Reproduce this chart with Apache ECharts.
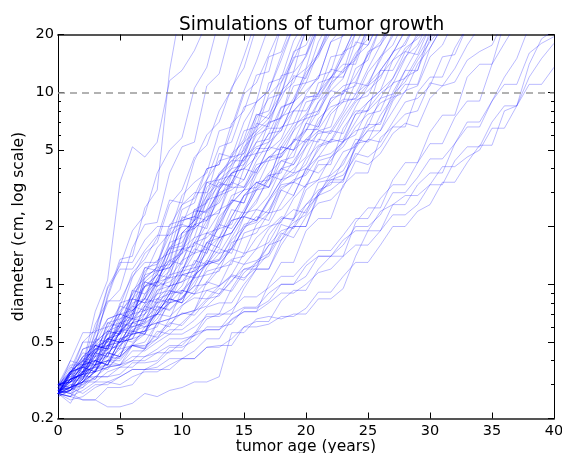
<!DOCTYPE html>
<html><head><meta charset="utf-8">
<script src="https://cdn.jsdelivr.net/npm/echarts@6/dist/echarts.min.js"></script>
<style>html,body{margin:0;padding:0;background:#fff}#c{width:562px;height:453px}</style>
</head><body><div id="c"></div>
<script>
// ages (years) at each simulation step
const ages = [0,1,2,3,4,5,6,7,8,9,10,11,12,13,14,15,16,17,18,19,20,21,22,23,24,25,26,27,28,29,30,31,32,33,34,35,36,37,38,39,40];

// simulated tumor diameters (cm), one array per simulation, starting at age 0
const s01 = [0.27,0.34,0.38,0.72,1.05,3.4,5.2,4.6,5.5,11.5,13,16.5,23];
const s02 = [0.28,0.32,0.46,0.49,0.88,1.35,1.4,2.5,3.1,13,30];
const s03 = [0.29,0.34,0.50,0.58,0.97,1.25,1.9,2.3,3.8,5.0,5.8,10.5,13.5,24];
const s04 = [0.28,0.35,0.37,0.55,0.80,0.94,1.55,2.05,2.1,3.8,5.2,5.5,10.8,12.5,22];
const s05 = [0.27,0.31,0.42,0.48,0.66,0.70,1.08,1.45,1.65,2.6,3.1,4.6,5.3,8.0,10.3,15.5,24];
const s06 = [0.29,0.37,0.35,0.57,0.60,0.77,1.15,1.35,1.75,2.75,2.65,4.4,6.0,7.0,10.6,13.4,22];
const s07 = [0.27,0.28,0.38,0.48,0.50,0.80,0.84,1.12,1.55,1.85,2.9,3.4,3.8,6.3,6.6,10.2,14.5,22];
const s08 = [0.28,0.35,0.40,0.50,0.57,0.55,0.93,1.07,1.23,1.95,2.05,2.9,4.0,4.2,6.9,8.0,12.3,12.8,22];
const s09 = [0.30,0.29,0.37,0.50,0.57,0.73,0.84,1.17,1.33,1.45,2.45,2.65,4.0,4.2,6.3,9.8,11.2,15.7,22];
const s10 = [0.27,0.32,0.34,0.44,0.60,0.63,0.73,1.22,1.18,1.65,2.6,2.8,3.5,5.2,5.5,8.4,8.9,15.3,16.2,24];
const s11 = [0.28,0.31,0.38,0.40,0.55,0.70,0.66,1.12,1.18,1.34,2.15,2.25,2.9,4.8,4.6,5.7,8.9,10.2,15.6,22];
const s12 = [0.29,0.34,0.42,0.48,0.46,0.66,0.77,0.98,1.03,1.45,2.05,1.95,3.2,3.7,4.2,6.3,6.6,11.2,11.8,18.5,24];
const s13 = [0.27,0.35,0.37,0.42,0.63,0.60,0.84,0.97,1.12,1.55,1.85,2.15,3.4,3.2,4.8,5.5,6.3,9.7,11.3,15.8,22];
const s14 = [0.26,0.28,0.35,0.48,0.46,0.57,0.80,0.84,1.07,1.33,1.45,2.45,2.35,3.1,4.2,4.8,6.6,7.7,9.8,15.2,15.8,24];
const s15 = [0.30,0.32,0.34,0.46,0.52,0.60,0.93,0.89,1.13,1.55,1.65,2.15,3.4,3.5,4.0,5.5,7.6,8.0,12.2,12.8,22];
const s16 = [0.27,0.34,0.42,0.44,0.50,0.77,0.73,0.84,1.27,1.53,1.58,2.45,2.65,3.7,4.6,4.8,7.3,9.3,9.8,16.3,17.6,24];
const s17 = [0.28,0.29,0.31,0.38,0.52,0.55,0.70,0.97,1.03,1.17,1.85,1.95,2.25,3.2,4.0,4.2,6.3,7.3,9.3,12.7,15.3,22];
const s18 = [0.30,0.35,0.40,0.38,0.57,0.61,0.70,0.98,1.12,1.08,1.85,2.15,2.45,3.5,3.7,4.6,6.9,6.6,10.2,11.8,13.3,22];
const s19 = [0.27,0.28,0.32,0.48,0.46,0.63,0.66,0.77,1.08,1.33,1.27,2.05,2.15,3.1,3.8,4.0,5.5,6.9,7.4,12.2,11.8,18.3,24];
const s20 = [0.27,0.35,0.40,0.46,0.48,0.60,0.84,0.80,1.03,1.27,1.53,1.45,2.45,2.65,3.4,4.6,4.8,6.1,8.4,8.9,13.2,15.8,24];
const s21 = [0.30,0.31,0.35,0.44,0.55,0.57,0.66,1.03,0.97,1.12,1.55,2.05,1.95,3.1,3.8,4.4,5.5,5.7,7.6,10.8,11.2,16.3,22];
const s22 = [0.27,0.32,0.34,0.46,0.52,0.55,0.84,0.80,1.02,1.45,1.53,1.75,2.75,2.9,3.4,4.6,5.2,5.5,8.3,8.9,12.2,15.8,20.5,24];
const s23 = [0.28,0.29,0.40,0.38,0.48,0.60,0.63,0.73,1.03,1.08,1.33,1.75,1.85,2.35,3.4,3.2,4.4,5.5,6.3,8.9,10.2,11.8,18.3,19.6,24];
const s24 = [0.30,0.34,0.32,0.44,0.50,0.52,0.73,0.84,0.80,1.22,1.45,1.65,2.15,2.45,2.65,4.0,3.8,5.2,6.6,6.9,9.8,12.2,12.8,20.4,24];
const s25 = [0.27,0.35,0.37,0.38,0.57,0.55,0.63,0.89,1.03,0.97,1.53,1.58,2.05,2.9,3.1,3.5,4.8,5.0,5.7,8.0,9.3,9.8,15.3,15.8,22];
const s26 = [0.26,0.28,0.32,0.44,0.42,0.57,0.66,0.70,0.89,1.12,1.17,1.65,1.55,2.25,2.65,3.1,4.2,4.4,5.5,6.9,7.3,11.2,11.8,15.3,20.3,24];
const s27 = [0.30,0.32,0.37,0.35,0.52,0.50,0.63,0.80,0.84,0.89,1.33,1.45,1.53,2.15,2.75,2.65,4.0,4.6,5.2,6.6,7.7,9.8,13.2,12.7,20.5,24];
const s28 = [0.27,0.34,0.38,0.40,0.46,0.63,0.60,0.70,0.98,1.03,1.17,1.65,1.75,2.05,2.9,3.1,3.8,5.2,5.0,6.3,8.9,9.3,11.8,16.3,17.6,24];
const s29 = [0.27,0.28,0.31,0.38,0.44,0.42,0.63,0.66,0.70,0.89,1.12,1.17,1.85,1.75,2.25,2.9,3.4,3.5,5.2,5.0,6.9,8.9,10.2,11.8,18.3,17.6,24];
const s30 = [0.30,0.35,0.37,0.46,0.48,0.55,0.77,0.73,0.93,1.08,1.12,1.45,1.85,1.95,2.75,2.65,3.7,4.6,4.8,5.5,7.6,8.0,11.2,12.7,15.3,22];
const s31 = [0.27,0.31,0.38,0.40,0.42,0.57,0.55,0.77,0.89,0.93,1.17,1.53,1.45,2.05,2.65,3.1,3.2,4.4,4.6,6.3,7.3,7.7,10.8,13.2,14.7,22];
const s32 = [0.28,0.32,0.34,0.35,0.48,0.50,0.52,0.66,0.84,0.80,1.12,1.17,1.33,1.75,1.85,2.35,3.4,3.2,4.0,5.0,5.7,6.6,9.3,9.8,12.2,15.7,18.3,24];
const s33 = [0.30,0.31,0.35,0.44,0.42,0.57,0.60,0.63,0.93,0.98,1.03,1.27,1.65,1.75,2.45,2.35,3.1,3.8,4.4,4.6,6.9,6.6,9.3,10.8,11.3,15.7,22];
const s34 = [0.27,0.34,0.35,0.37,0.46,0.48,0.55,0.77,0.73,0.84,1.17,1.22,1.45,2.05,1.95,2.45,3.2,3.7,3.8,5.7,5.5,6.9,8.9,10.2,10.8,16.3,17.6,24];
const s35 = [0.27,0.28,0.32,0.40,0.38,0.52,0.55,0.57,0.73,0.93,0.89,1.22,1.27,1.65,2.15,2.25,2.65,3.7,3.5,4.4,5.5,6.3,6.6,10.2,9.8,13.3,17.6,22];
const s36 = [0.30,0.32,0.34,0.42,0.44,0.50,0.63,0.60,0.70,0.89,0.93,1.08,1.53,1.45,1.85,2.35,2.45,2.9,4.0,3.8,5.2,6.1,6.3,8.0,11.2,10.8,15.3,19.6,24];
const s37 = [0.27,0.32,0.37,0.35,0.48,0.50,0.52,0.70,0.80,0.84,0.98,1.33,1.27,1.65,2.15,2.25,2.75,3.5,4.0,4.2,5.7,5.5,7.7,8.9,9.3,12.7,15.3,17.6,24];
const s38 = [0.27,0.29,0.31,0.35,0.44,0.42,0.57,0.60,0.63,0.80,0.93,0.89,1.22,1.45,1.53,1.95,2.45,2.35,3.4,3.8,4.0,5.0,6.3,6.1,8.4,10.8,12.2,14.7,18.3,24];
const s39 = [0.30,0.31,0.35,0.40,0.38,0.52,0.55,0.57,0.66,0.84,0.80,1.12,1.27,1.33,1.55,2.25,2.15,2.75,3.5,3.7,4.2,5.7,5.5,7.0,8.9,10.2,11.8,16.3,17.6,24];
const s40 = [0.27,0.29,0.37,0.35,0.44,0.50,0.52,0.55,0.77,0.73,0.84,1.08,1.12,1.17,1.65,1.75,1.85,2.35,3.1,2.9,4.0,4.6,4.8,5.5,7.7,8.0,9.3,11.8,15.3,17.6,24];
const s41 = [0.27,0.26,0.34,0.38,0.40,0.42,0.57,0.55,0.70,0.80,0.84,0.98,1.33,1.27,1.53,1.95,2.25,2.15,3.1,3.5,3.7,4.6,5.7,5.5,7.0,8.9,10.2,11.8,16.3,15.7,22];
const s42 = [0.30,0.31,0.32,0.40,0.38,0.48,0.55,0.57,0.60,0.84,0.80,0.93,1.17,1.22,1.27,1.85,1.95,2.05,2.65,3.4,3.2,4.4,4.6,5.2,6.6,7.7,8.0,11.2,11.8,15.3,19.6,24];
const s43 = [0.27,0.29,0.31,0.35,0.44,0.42,0.48,0.60,0.63,0.66,0.93,0.89,1.03,1.27,1.53,1.45,2.05,2.35,2.45,2.9,4.0,3.8,4.4,5.5,6.3,6.6,9.3,9.8,11.3,14.7,18.3,22];
const s44 = [0.28,0.29,0.34,0.32,0.40,0.46,0.48,0.50,0.63,0.60,0.77,0.89,0.93,0.98,1.33,1.27,1.53,1.95,2.25,2.15,3.1,3.5,3.7,4.2,5.7,5.5,6.3,8.0,10.2,10.8,15.3,17.6,24];
const s45 = [0.30,0.29,0.34,0.35,0.37,0.42,0.48,0.46,0.63,0.66,0.70,0.73,1.03,0.98,1.12,1.45,1.53,1.65,2.15,2.45,2.35,3.4,3.5,3.7,4.6,5.7,5.5,7.0,8.9,9.3,10.8,15.3,15.7,22];
const s46 = [0.27,0.26,0.31,0.35,0.37,0.38,0.48,0.46,0.52,0.66,0.70,0.73,0.93,0.89,1.03,1.27,1.33,1.45,2.05,1.95,2.45,2.9,3.1,3.5,4.8,4.6,5.2,6.6,7.7,8.0,11.2,10.8,13.3,17.6,22];
const s47 = [0.27,0.29,0.31,0.32,0.40,0.38,0.40,0.46,0.57,0.55,0.63,0.73,0.77,0.89,1.12,1.08,1.22,1.45,1.85,1.75,2.25,2.65,2.75,3.2,4.4,4.2,4.8,6.1,6.9,6.6,9.3,10.8,11.3,14.7,16.3,17.6,24];
const s48 = [0.27,0.26,0.25,0.25,0.23,0.23,0.24,0.27,0.26,0.28,0.29,0.31,0.31,0.33,0.56,0.56,0.66,0.68,0.66,0.70,0.70,0.84,0.84,0.95,1.4,1.9,1.9,2.6,2.9,2.9,3.3,4.1,4.1,4.6,5.0,6.5,6.5,8.5,11,11,13.5];
const s49 = [0.28,0.27,0.25,0.25,0.29,0.29,0.30,0.36,0.36,0.36,0.41,0.41,0.47,0.47,0.52,0.60,0.60,0.62,0.68,0.68,0.75,0.91,0.91,1.1,1.3,1.3,1.6,2.0,2.0,2.4,2.6,3.4,3.4,4.3,5.3,5.3,8.0,8.5,12,15,18];
const s50 = [0.29,0.28,0.30,0.33,0.33,0.34,0.39,0.39,0.40,0.47,0.47,0.51,0.60,0.60,0.62,0.75,0.75,0.82,1.0,1.0,1.1,1.4,1.4,1.6,2.0,2.0,2.3,3.0,3.0,3.6,4.5,4.5,5.4,7.0,7.0,9.0,12,15,22];
const s51 = [0.27,0.29,0.31,0.31,0.35,0.37,0.37,0.42,0.44,0.44,0.50,0.54,0.58,0.58,0.65,0.72,0.72,0.80,0.90,0.90,1.0,1.15,1.2,1.4,1.6,1.6,1.9,2.3,2.3,2.6,3.3,3.3,4.4,5.2,5.2,7.0,8.5,8.5,14,19,21];
const s52 = [0.28,0.30,0.30,0.36,0.38,0.38,0.45,0.45,0.50,0.55,0.55,0.60,0.68,0.68,0.74,0.86,0.86,0.96,1.1,1.1,1.3,1.5,1.5,1.8,2.2,2.2,2.8,3.3,3.3,4.3,5.4,5.4,7.4,9.0,9.0,14,18,23];
const s53 = [0.28,0.29,0.27,0.30,0.30,0.33,0.36,0.36,0.39,0.45,0.45,0.55,0.70,0.70,0.95,1.2,1.2,1.8,2.2,2.2,3.3,4.2,4.2,6.5,8.0,8.0,13,16,21];
const s54 = [0.27,0.26,0.28,0.31,0.31,0.33,0.36,0.36,0.37,0.41,0.41,0.45,0.52,0.52,0.66,0.72,0.72,1.0,1.3,1.3,1.9,2.2,2.2,3.3,3.8,3.8,5.8,6.6,6.6,10,12,12,17,22];
const s55 = [0.28,0.31,0.33,0.33,0.37,0.38,0.42,0.42,0.46,0.52,0.52,0.54,0.66,0.70,0.70,0.95,1.2,1.2,1.6,2.0,2.0,2.9,3.5,3.5,5.2,6.8,6.8,10,13,13,21];
const s56 = [0.27,0.25,0.26,0.29,0.31,0.30,0.33,0.35,0.35,0.38,0.41,0.41,0.47,0.48,0.48,0.60,0.64,0.64,0.82,0.93,0.93,1.2,1.4,1.4,2.1,2.5,2.5,3.5,4.3,4.3,6.2,7.6,7.6,12,14,14,23];
const s57 = [0.29,0.33,0.33,0.38,0.40,0.40,0.48,0.48,0.52,0.58,0.58,0.65,0.76,0.80,0.80,1.0,1.2,1.2,1.7,2.0,2.0,3.0,3.4,3.4,5.4,6.3,6.3,9.0,11,11,17,22];
const s58 = [0.28,0.40,0.56,0.56,0.95,1.2,1.2,1.5,1.8,1.8,2.2,2.4,2.4,3.0,3.2,3.2,4.0,4.6,4.6,5.6,6.4,6.4,8.0,9.2,9.2,11,13,13,17,19,22];
const s59 = [0.27,0.36,0.50,0.50,0.85,1.3,1.3,1.7,2.0,2.0,2.6,3.0,3.0,3.7,4.4,4.4,6.0,6.5,6.5,8.0,9.5,9.5,12,14,14,21];
const s60 = [0.30,0.38,0.38,0.62,0.82,0.82,1.1,1.3,1.3,1.8,2.0,2.0,2.7,3.3,3.3,4.2,5.1,5.1,7.5,8.0,8.0,10,12,12,16,19,24];
const s61 = [0.28,0.27,0.29,0.33,0.33,0.37,0.40,0.40,0.44,0.48,0.48,0.56,0.58,0.58,0.70,0.76,0.76,0.90,1.0,1.0,1.25,1.4,1.4,1.7,1.9,1.9,2.4,2.6,2.6,3.3,3.8,3.8,5.4,6.6,6.6,9.0,11,11,16,18,19.5];
const s62 = [0.30,0.28,0.35,0.52,0.50,0.63,0.89,1.03,0.98,1.65,1.75,2.05,2.9,3.4,3.2,5.2,6.1,7.0,9.8,11.2,15.7,22];
const s63 = [0.27,0.34,0.46,0.48,0.55,0.70,0.66,1.03,1.17,1.22,1.45,2.25,2.15,2.75,3.8,4.0,4.6,7.0,7.3,9.3,12.7,15.3,22];
const s64 = [0.27,0.24,0.31,0.38,0.40,0.50,0.57,0.55,0.84,0.98,1.03,1.12,1.65,1.55,2.25,2.9,3.1,3.5,5.2,5.0,6.3,8.9,11.2,15.7,22];
const s65 = [0.30,0.32,0.34,0.38,0.52,0.50,0.63,0.66,0.70,0.89,1.12,1.08,1.53,1.75,1.85,2.35,3.1,3.2,4.4,4.2,5.2,7.3,8.4,8.9,13.3,14.7,22];
const s66 = [0.27,0.35,0.44,0.42,0.63,0.66,0.70,1.08,1.22,1.27,2.25,2.15,2.75,3.8,4.4,5.0,7.7,7.3,11.2,14.7,20.5,24];
const s67 = [0.27,0.31,0.35,0.37,0.38,0.52,0.50,0.57,0.73,0.84,0.80,1.12,1.27,1.33,1.75,2.25,2.15,2.75,3.5,4.0,4.6,6.3,6.1,7.7,9.8,11.2,14.7,20.4,24];
const s68 = [0.30,0.40,0.38,0.52,0.66,0.70,0.89,1.22,1.27,2.05,2.15,2.25,3.5,4.4,4.6,7.0,8.9,10.2,14.7,22];
const s69 = [0.27,0.32,0.34,0.42,0.48,0.46,0.70,0.73,0.77,0.98,1.22,1.27,1.65,1.95,2.05,2.9,3.4,3.2,4.8,5.5,6.3,8.0,10.2,9.8,15.3,17.6,24];
const s70 = [0.30,0.31,0.38,0.48,0.46,0.70,0.73,0.84,1.17,1.22,1.53,1.95,2.25,2.35,3.7,3.5,4.8,6.1,6.3,8.9,11.2,11.8,18.3,22];
const s71 = [0.27,0.28,0.35,0.40,0.38,0.48,0.60,0.63,0.70,0.80,0.84,1.03,1.27,1.53,1.45,2.05,2.15,2.45,3.2,3.4,3.8,5.2,5.5,5.7,7.7,8.9,10.2,14.7,16.3,19.6,24];
const s72 = [0.28,0.33,0.38,0.45,0.52,0.50,0.58,0.62,0.70,0.68,0.78,0.85,0.84,0.98,1.1,1.05,1.3,1.6,1.7,2.2,2.6,2.9,3.8,4.9,5.2,7.2,8.8,9.5,13,17,22];
const s73 = [0.27,0.30,0.29,0.36,0.42,0.41,0.49,0.55,0.53,0.62,0.71,0.69,0.82,0.95,0.92,1.15,1.3,1.4,1.8,2.1,2.3,3.0,3.6,3.9,5.1,6.4,7.0,9.2,12,13,19,23];
const s74 = [0.29,0.35,0.41,0.40,0.52,0.58,0.57,0.66,0.76,0.74,0.86,0.98,1.0,1.2,1.35,1.4,1.75,2.0,2.1,2.8,3.3,3.5,4.6,5.6,6.0,8.2,9.9,11,15,20.5,24];
const s75 = [0.28,0.27,0.33,0.37,0.36,0.44,0.48,0.47,0.55,0.63,0.61,0.72,0.84,0.87,1.05,1.2,1.25,1.6,1.9,2.0,2.6,3.1,3.3,4.4,5.4,5.6,7.6,9.4,10,14,17,22];
const s76 = [0.27,0.32,0.40,0.46,0.45,0.56,0.66,0.64,0.80,0.92,0.90,1.1,1.3,1.35,1.7,2.0,2.1,2.7,3.3,3.4,4.5,5.3,5.6,7.4,9.1,9.6,13,16,21];

const simulations = [s01,s02,s03,s04,s05,s06,s07,s08,s09,s10,s11,s12,s13,s14,s15,s16,s17,s18,s19,s20,
  s21,s22,s23,s24,s25,s26,s27,s28,s29,s30,s31,s32,s33,s34,s35,s36,s37,s38,s39,s40,
  s41,s42,s43,s44,s45,s46,s47,s48,s49,s50,s51,s52,s53,s54,s55,s56,s57,s58,s59,s60,
  s61,s62,s63,s64,s65,s66,s67,s68,s69,s70,s71,s72,s73,s74,s75,s76];

// axes
const xTicks = [0,5,10,15,20,25,30,35,40];
const yMajorTicks = [0.2,0.5,1,2,5,10,20];
const yMinorTicks = [0.3,0.4,0.6,0.7,0.8,0.9,3,4,6,7,8,9];
const thresholdDiameter = 10;

const FONT = "'DejaVu Sans', sans-serif";
const chart = echarts.init(document.getElementById('c'), null, {renderer: 'canvas'});

const series = simulations.map((sim, k) => ({
  type: 'line',
  name: 'sim' + (k + 1),
  data: sim.map((d, i) => [ages[i], d]),
  showSymbol: false,
  symbol: 'none',
  silent: true,
  animation: false,
  clip: true,
  emphasis: {disabled: true},
  lineStyle: {color: '#0000ff', width: 1, opacity: 0.27},
  z: 2
}));
series.push({
  type: 'line', data: [], silent: true, animation: false, z: 5,
  markLine: {
    silent: true, animation: false, symbol: ['none', 'none'],
    label: {show: false},
    lineStyle: {type: [7, 5], color: '#999999', width: 1.5},
    data: [{yAxis: thresholdDiameter}]
  }
});

const yBase = {type: 'log', logBase: 10, min: 0.2, max: 20, splitLine: {show: false}, minorTick: {show: false}};
const frame = {show: true, lineStyle: {color: '#000', width: 1}};

chart.setOption({
  animation: false,
  backgroundColor: '#fff',
  title: {
    text: 'Simulations of tumor growth', left: 174, top: 11,
    textStyle: {fontFamily: FONT, fontSize: 18.6, fontWeight: 'normal', color: '#000'}
  },
  grid: {left: 58, right: 8, top: 34.5, bottom: 34.5, containLabel: false, outerBoundsMode: 'none'},
  xAxis: [
    {
      type: 'value', min: 0, max: 40, interval: 5, position: 'bottom',
      axisLine: {show: true, onZero: false, lineStyle: {color: '#555', width: 2}},
      axisTick: {show: true, inside: true, length: 6, customValues: xTicks, lineStyle: {color: '#000'}},
      axisLabel: {show: true, margin: 5, customValues: xTicks, fontFamily: FONT, fontSize: 14.5, color: '#000'},
      splitLine: {show: false},
      name: 'tumor age (years)', nameLocation: 'middle', nameGap: 20, nameMoveOverlap: false,
      nameTextStyle: {fontFamily: FONT, fontSize: 15.5, color: '#000'}
    },
    {
      type: 'value', min: 0, max: 40, interval: 5, position: 'top',
      axisLine: {show: true, onZero: false, lineStyle: {color: '#555', width: 2}},
      axisTick: {show: true, inside: true, length: 6, customValues: xTicks, lineStyle: {color: '#000'}},
      axisLabel: {show: false},
      splitLine: {show: false}
    }
  ],
  yAxis: [
    Object.assign({}, yBase, {
      position: 'left',
      axisLine: frame,
      axisTick: {show: true, inside: true, length: 6, customValues: yMajorTicks, lineStyle: {color: '#000'}},
      axisLabel: {show: true, margin: 4, customValues: yMajorTicks, fontFamily: FONT, fontSize: 14.5, color: '#000',
        formatter: v => String(+(+v).toPrecision(3))},
      name: 'diameter (cm, log scale)', nameLocation: 'middle', nameGap: 31, nameMoveOverlap: false,
      nameTextStyle: {fontFamily: FONT, fontSize: 15.5, color: '#000'}
    }),
    Object.assign({}, yBase, {
      position: 'left',
      axisLine: {show: false},
      axisTick: {show: true, inside: true, length: 3, customValues: yMinorTicks, lineStyle: {color: '#000'}},
      axisLabel: {show: false}
    }),
    Object.assign({}, yBase, {
      position: 'right',
      axisLine: frame,
      axisTick: {show: true, inside: true, length: 6, customValues: yMajorTicks, lineStyle: {color: '#000'}},
      axisLabel: {show: false}
    }),
    Object.assign({}, yBase, {
      position: 'right',
      axisLine: {show: false},
      axisTick: {show: true, inside: true, length: 3, customValues: yMinorTicks, lineStyle: {color: '#000'}},
      axisLabel: {show: false}
    })
  ],
  series: series
});
</script>
</body></html>
